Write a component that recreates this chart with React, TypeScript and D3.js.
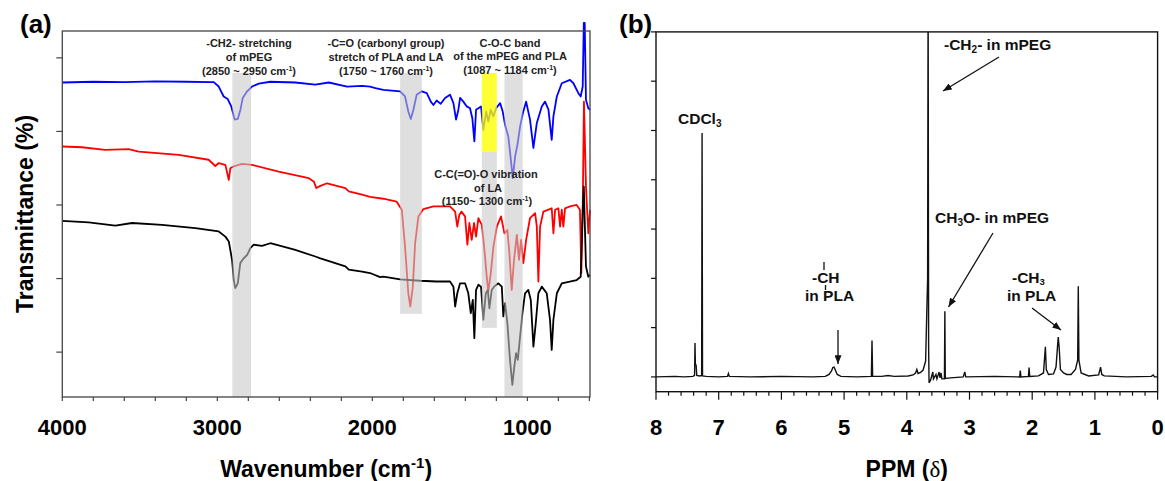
import * as d3 from "d3";

// (a) FTIR spectra: [wavenumber (cm-1), transmittance]
const copolymerIR: [number, number][] = [
  [4000, 93.3], [3800, 93.5], [3600, 93.4], [3400, 93.6], [3200, 93.5], [3050, 93.4],
  [3023, 93.4], [2991, 92.2], [2959, 89.5], [2933, 88.8], [2910, 86.8], [2888, 83.2],
  [2868, 83.4], [2851, 85.9], [2836, 89.1], [2808, 90.9], [2776, 92.2], [2733, 93.0],
  [2658, 93.5], [2497, 93.3], [2368, 92.7], [2281, 93.3], [2163, 92.2], [2066, 92.4],
  [2015, 92.2], [1980, 91.8], [1929, 91.3], [1821, 90.9], [1789, 89.5], [1768, 85.4],
  [1752, 83.4], [1735, 85.9], [1714, 90.0], [1681, 90.9], [1649, 90.4], [1623, 88.1],
  [1606, 87.2], [1585, 88.4], [1559, 87.5], [1531, 89.1], [1499, 90.0], [1477, 87.7],
  [1460, 83.2], [1445, 85.9], [1434, 89.1], [1413, 88.1], [1391, 86.8], [1370, 86.3],
  [1355, 83.6], [1342, 77.3], [1331, 85.9], [1316, 86.3], [1299, 86.8], [1284, 80.4],
  [1266, 85.4], [1252, 82.7], [1236, 85.9], [1219, 84.1], [1202, 86.3], [1176, 87.7],
  [1159, 85.4], [1144, 81.8], [1123, 78.6], [1112, 74.5], [1094, 67.3], [1079, 73.2],
  [1064, 76.4], [1047, 81.3], [1029, 85.0], [1008, 88.1], [983, 83.2], [961, 75.5],
  [939, 82.3], [907, 86.8], [886, 88.1], [864, 85.9], [843, 77.7], [832, 84.1],
  [810, 89.5], [778, 93.1], [725, 94.0], [703, 93.1], [671, 90.4], [656, 89.5],
  [643, 92.2], [636, 109.5], [630, 109.5], [622, 88.6], [607, 86.3], [596, 85.9],
];

const lactideIR: [number, number][] = [
  [4000, 75.9], [3873, 75.7], [3723, 75.0], [3572, 75.2], [3507, 74.5], [3249, 73.6],
  [3056, 72.3], [3013, 70.6], [2991, 71.4], [2948, 70.9], [2926, 66.8], [2916, 70.0],
  [2894, 70.5], [2841, 71.2], [2776, 70.9], [2604, 69.1], [2410, 67.3], [2378, 66.4],
  [2361, 64.6], [2335, 65.2], [2292, 65.9], [2174, 64.6], [2152, 63.7], [2066, 62.8],
  [2015, 62.2], [1929, 61.7], [1843, 60.9], [1810, 58.7], [1789, 48.7], [1768, 36.0],
  [1755, 32.4], [1739, 37.8], [1724, 49.6], [1703, 56.9], [1671, 58.9], [1606, 59.6],
  [1499, 59.6], [1466, 58.2], [1452, 54.1], [1439, 57.3], [1425, 58.2], [1402, 56.9],
  [1387, 49.2], [1374, 55.1], [1359, 50.5], [1344, 55.1], [1331, 51.4], [1316, 56.4],
  [1294, 54.6], [1279, 48.7], [1262, 40.5], [1252, 36.5], [1236, 41.5], [1219, 48.7],
  [1197, 54.1], [1170, 56.9], [1148, 52.3], [1129, 53.2], [1116, 46.9], [1101, 36.9],
  [1086, 45.1], [1068, 51.9], [1054, 45.1], [1041, 50.5], [1026, 44.2], [1008, 50.5],
  [983, 56.4], [950, 57.8], [939, 54.1], [929, 39.2], [918, 54.1], [897, 58.2],
  [843, 59.1], [832, 52.3], [821, 58.7], [800, 59.1], [789, 54.1], [778, 58.7],
  [768, 54.1], [757, 59.1], [725, 59.6], [682, 60.0], [661, 58.7], [652, 41.5],
  [643, 58.7], [635, 88.1], [622, 65.0], [607, 52.3], [596, 58.7],
];

const mpegIR: [number, number][] = [
  [4000, 55.7], [3830, 55.3], [3658, 54.4], [3550, 55.1], [3357, 54.6], [3142, 53.7],
  [2991, 52.8], [2948, 51.4], [2926, 50.1], [2905, 45.1], [2894, 39.6], [2884, 37.4],
  [2868, 38.7], [2852, 44.2], [2830, 45.5], [2808, 46.4], [2787, 48.3], [2765, 49.2],
  [2712, 48.9], [2658, 49.6], [2497, 47.8], [2368, 46.0], [2335, 45.5], [2174, 43.3],
  [2152, 42.4], [2066, 41.9], [2015, 41.5], [1950, 40.4], [1929, 40.5], [1821, 39.8],
  [1692, 39.4], [1585, 39.2], [1499, 39.2], [1477, 37.8], [1466, 32.4], [1452, 36.0],
  [1434, 38.7], [1402, 38.7], [1381, 36.0], [1365, 30.6], [1352, 34.2], [1342, 23.8],
  [1331, 36.9], [1316, 38.3], [1299, 37.8], [1284, 28.8], [1268, 36.0], [1255, 36.9],
  [1245, 31.9], [1230, 36.9], [1215, 37.8], [1187, 38.7], [1165, 37.8], [1155, 29.7],
  [1144, 33.3], [1129, 27.9], [1112, 17.9], [1097, 11.1], [1084, 16.1], [1073, 19.7],
  [1062, 17.9], [1047, 24.2], [1032, 30.6], [1015, 36.0], [994, 36.9], [978, 34.2],
  [961, 21.5], [946, 27.9], [929, 36.0], [907, 37.8], [875, 36.0], [854, 28.8],
  [843, 20.6], [832, 28.8], [810, 36.0], [778, 38.7], [682, 39.6], [656, 40.5],
  [643, 58.7], [636, 65.0], [622, 43.3], [607, 40.5], [596, 41.0],
];

// highlighted bands: [from cm-1, to cm-1, top, bottom] in transmittance units
const grayBands: [number, number, number, number][] = [
  [2903, 2782, 95.9, 7.8],
  [1821, 1681, 95.9, 30.4],
  [1294, 1197, 74.5, 26.6],
  [1148, 1030, 95.9, 7.8],
];
const yellowBands: [number, number, number, number][] = [[1294, 1197, 95.9, 74.5]];

const irTickLabels = [4000, 3000, 2000, 1000];

// (b) 1H NMR: [ppm, intensity]
const nmrSpectrum: [number, number][] = [
  [8.0, 0], [7.7, 0.01], [7.55, 0], [7.41, 0.01], [7.385, 0.03], [7.378, 0.69], [7.372, 0.25],
  [7.36, 0.24], [7.35, 0.03], [7.3, 0.02], [7.272, 0.03], [7.265, 4.95], [7.258, 0.02],
  [7.2, 0.01], [7.0, 0], [6.86, 0.01], [6.845, 0.07], [6.83, 0.01], [6.5, 0], [6.0, 0.01],
  [5.5, 0], [5.3, 0.01], [5.24, 0.05], [5.2, 0.12], [5.18, 0.19], [5.16, 0.2], [5.14, 0.14],
  [5.11, 0.05], [5.05, 0.01], [4.8, 0], [4.565, 0.01], [4.555, 0.74], [4.545, 0.01],
  [4.4, 0.01], [4.3, 0.03], [4.2, 0.01], [3.98, 0.02], [3.9, 0.04], [3.86, 0.08],
  [3.84, 0.15], [3.82, 0.07], [3.78, 0.09], [3.74, 0.14], [3.7, 0.32], [3.668, 2.0],
  [3.66, 8.0], [3.652, 0.61], [3.645, -0.12], [3.62, -0.06], [3.585, 0.1], [3.575, -0.04],
  [3.535, 0.05], [3.52, -0.04], [3.485, 0.1], [3.47, -0.02], [3.455, 0.08], [3.44, -0.04],
  [3.4, -0.04], [3.393, 1.33], [3.386, -0.03], [3.3, -0.02], [3.1, 0], [3.075, 0.1],
  [3.06, 0], [2.6, 0.01], [2.2, 0], [2.19, 0.13], [2.18, 0], [2.06, 0.01], [2.05, 0.19],
  [2.04, 0.01], [1.9, 0.02], [1.82, 0.08], [1.79, 0.61], [1.775, 0.15], [1.74, 0.05],
  [1.66, 0.06], [1.62, 0.2], [1.6, 0.55], [1.585, 0.81], [1.57, 0.6], [1.55, 0.15],
  [1.5, 0.08], [1.45, 0.05], [1.38, 0.05], [1.31, 0.15], [1.275, 0.34], [1.265, 1.84],
  [1.255, 0.34], [1.22, 0.08], [1.1, 0.02], [0.94, 0.04], [0.91, 0.2], [0.89, 0.05],
  [0.85, 0.02], [0.5, 0], [0.1, 0.01], [0.07, 0.04], [0.05, 0], [0, 0],
];

const ppmTickLabels = [8, 7, 6, 5, 4, 3, 2, 1, 0];

const FONT = "'Liberation Sans', Arial, Helvetica, sans-serif";

const Sup = ({ t }: { t: string }) => (
  <>
    <tspan dy={-4} fontSize={7}>{t}</tspan>
    <tspan dy={4}>)</tspan>
  </>
);

export default function App() {
  const xA = d3.scaleLinear().domain([4000, 596]).range([62.3, 590]);
  const yA = d3.scaleLinear().domain([7.8, 107.3]).range([397, 31]);
  const xB = d3.scaleLinear().domain([8, 0]).range([656, 1157.6]);
  const yB = d3.scaleLinear().domain([-0.3, 7]).range([391.7, 31.9]);

  const lineA = d3.line<[number, number]>().x((d) => xA(d[0])).y((d) => yA(d[1]));
  const lineB = d3.line<[number, number]>().x((d) => xB(d[0])).y((d) => yB(d[1]));

  const xTicksA = d3.range(4000, 599, -200);
  const yTicksA = [20, 40, 60, 80, 100];
  const xTicksB = d3.range(0, 41).map((i) => ({ v: i * 0.2, major: i % 5 === 0 }));
  const yTicksB = d3.range(0, 8);

  const [ax0, ax1] = xA.range();
  const [ay1, ay0] = yA.range();
  const [bx0, bx1] = xB.range();
  const [by1, by0] = yB.range();

  const band = (b: [number, number, number, number], fill: string, op: number, i: number) => (
    <rect
      key={fill + i}
      x={xA(b[0])}
      y={yA(b[2])}
      width={xA(b[1]) - xA(b[0])}
      height={yA(b[3]) - yA(b[2])}
      fill={fill}
      opacity={op}
    />
  );

  const noteA = { fontSize: 11, fontWeight: "bold" as const, fill: "#222", textAnchor: "middle" as const };
  const noteB = { fontSize: 15.5, fontWeight: "bold" as const, fill: "#111" };

  return (
    <div style={{ position: "absolute", left: 0, top: 0 }}>
      <svg width={1165} height={481} fontFamily={FONT} style={{ display: "block", background: "#fff" }}>
        <defs>
          <marker id="ah" viewBox="0 0 10 8" refX={10} refY={4} markerWidth={9} markerHeight={7}
            markerUnits="userSpaceOnUse" orient="auto">
            <path d="M0,0 L10,4 L0,8 Z" fill="#111" />
          </marker>
          <clipPath id="clipB">
            <rect x={bx0} y={by0} width={bx1 - bx0} height={by1 - by0} />
          </clipPath>
        </defs>

        {/* ---------- panel (a) ---------- */}
        <text x={20} y={33} fontSize={26} fontWeight="bold">(a)</text>

        <path d={lineA(copolymerIR) ?? ""} fill="none" stroke="#0000ff" strokeWidth={1.8} strokeLinejoin="round" />
        <path d={lineA(lactideIR) ?? ""} fill="none" stroke="#ff0000" strokeWidth={1.8} strokeLinejoin="round" />
        <path d={lineA(mpegIR) ?? ""} fill="none" stroke="#000" strokeWidth={1.8} strokeLinejoin="round" />

        {grayBands.map((b, i) => band(b, "#c8c8c8", 0.58, i))}
        {yellowBands.map((b, i) => band(b, "#ffff00", 0.78, i))}

        <rect x={ax0} y={ay0} width={ax1 - ax0} height={ay1 - ay0} fill="none" stroke="#444" strokeWidth={1.3} />
        {yTicksA.map((t) => (
          <line key={t} x1={ax0 - 6} x2={ax0} y1={yA(t)} y2={yA(t)} stroke="#444" strokeWidth={1.2} />
        ))}
        {xTicksA.map((t) => (
          <line key={t} x1={xA(t)} x2={xA(t)} y1={ay1} y2={ay1 + 4} stroke="#444" strokeWidth={1.2} />
        ))}
        {irTickLabels.map((t) => (
          <text key={t} x={xA(t)} y={435} fontSize={22} fontWeight="bold" textAnchor="middle">{t}</text>
        ))}
        <text x={(ax0 + ax1) / 2} y={477} fontSize={23} fontWeight="bold" textAnchor="middle">
          Wavenumber (cm<tspan dy={-9} fontSize={15}>-1</tspan><tspan dy={9}>)</tspan>
        </text>
        <text transform={`translate(33,${(ay0 + ay1) / 2}) rotate(-90)`} fontSize={23} fontWeight="bold" textAnchor="middle">
          Transmittance (%)
        </text>

        <text {...noteA} x={249} y={47}>-CH2- stretching</text>
        <text {...noteA} x={249} y={61}>of mPEG</text>
        <text {...noteA} x={249} y={75}>(2850 ~ 2950 cm<Sup t="-1" /></text>

        <text {...noteA} x={386} y={47}>-C=O (carbonyl group)</text>
        <text {...noteA} x={386} y={61}>stretch of PLA and LA</text>
        <text {...noteA} x={386} y={75}>(1750 ~ 1760 cm<Sup t="-1" /></text>

        <text {...noteA} x={510} y={47}>C-O-C band</text>
        <text {...noteA} x={510} y={60}>of the mPEG and PLA</text>
        <text {...noteA} x={510} y={74}>(1087 ~ 1184 cm<Sup t="-1" /></text>

        <text {...noteA} x={486} y={178}>C-C(=O)-O vibration</text>
        <text {...noteA} x={488} y={191.5}>of LA</text>
        <text {...noteA} x={487} y={205}>(1150~ 1300 cm<Sup t="-1" /></text>

        {/* ---------- panel (b) ---------- */}
        <text x={619} y={33} fontSize={26} fontWeight="bold">(b)</text>

        <path d={lineB(nmrSpectrum) ?? ""} fill="none" stroke="#111" strokeWidth={1.4} clipPath="url(#clipB)" />

        <rect x={bx0} y={by0} width={bx1 - bx0} height={by1 - by0} fill="none" stroke="#111" strokeWidth={1.4} />
        {yTicksB.map((t) => (
          <line key={t} x1={bx0 - 5} x2={bx0} y1={yB(t)} y2={yB(t)} stroke="#111" strokeWidth={1.2} />
        ))}
        {xTicksB.map((t) => (
          <line key={t.v} x1={xB(t.v)} x2={xB(t.v)} y1={by1} y2={by1 + (t.major ? 8 : 4)} stroke="#111" strokeWidth={1.2} />
        ))}
        {ppmTickLabels.map((t) => (
          <text key={t} x={xB(t)} y={435} fontSize={22} fontWeight="bold" textAnchor="middle">{t}</text>
        ))}
        <text x={(bx0 + bx1) / 2} y={477} fontSize={23} fontWeight="bold" textAnchor="middle">
          PPM (<tspan fontFamily="'Liberation Serif', 'Times New Roman', serif" fontWeight="normal">δ</tspan>)
        </text>

        <text {...noteB} x={944} y={50}>
          -CH<tspan dy={3} fontSize={10}>2</tspan><tspan dy={-3}>- in mPEG</tspan>
        </text>
        <line x1={999} y1={57} x2={943} y2={91} stroke="#111" strokeWidth={1.3} markerEnd="url(#ah)" />

        <text {...noteB} x={678} y={124}>
          CDCl<tspan dy={3} fontSize={10}>3</tspan>
        </text>

        <text {...noteB} x={935} y={223}>
          CH<tspan dy={3} fontSize={10}>3</tspan><tspan dy={-3}>O- in mPEG</tspan>
        </text>
        <line x1={993} y1={233} x2={948.5} y2={307} stroke="#111" strokeWidth={1.3} markerEnd="url(#ah)" />

        <text {...noteB} x={812} y={283}>-CH</text>
        <line x1={824} y1={262} x2={824} y2={270} stroke="#111" strokeWidth={1.3} />
        <line x1={825.5} y1={285} x2={825.5} y2={290} stroke="#111" strokeWidth={1.3} />
        <text {...noteB} x={805} y={301}>in PLA</text>
        <line x1={838} y1={330} x2={838} y2={364} stroke="#111" strokeWidth={1.3} markerEnd="url(#ah)" />

        <text {...noteB} x={1012} y={283}>
          -CH<tspan dy={2} fontSize={9.5}>3</tspan>
        </text>
        <text {...noteB} x={1007} y={301}>in PLA</text>
        <line x1={1032} y1={308} x2={1061} y2={330} stroke="#111" strokeWidth={1.3} markerEnd="url(#ah)" />
      </svg>
    </div>
  );
}
